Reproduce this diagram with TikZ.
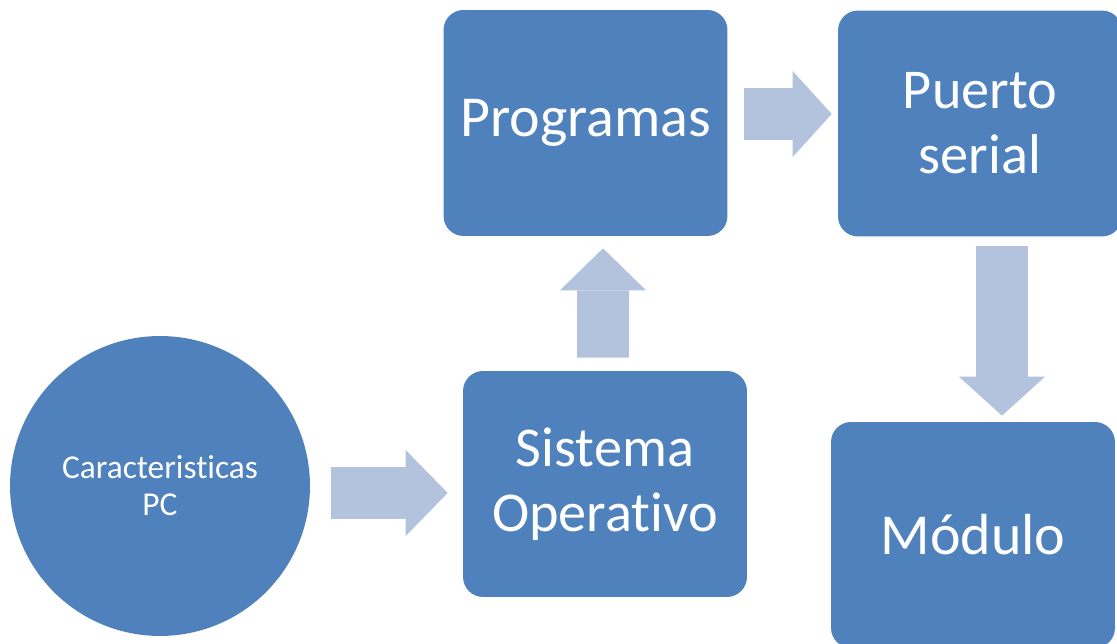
\documentclass[tikz,border=0pt]{standalone}
\usepackage{fontspec}
\setmainfont{Carlito}[RawFeature={-liga;-calt;-clig}]
\usetikzlibrary{positioning,arrows.meta,calc}
\definecolor{boxblue}{HTML}{4F81BD}
\definecolor{arrblue}{HTML}{B3C3DE}

\begin{document}
\begin{tikzpicture}[
		x=0.02cm, y=-0.02cm,
		box/.style = {fill=boxblue, rounded corners=0.4cm, minimum width=5.68cm, minimum height=4.52cm,
			text=white, align=center, inner sep=0pt, font=\fontsize{32}{37}\selectfont},
		round/.style = {fill=boxblue, circle, minimum size=6cm, inner sep=0pt,
			text=white, align=center, font=\fontsize{19}{21}\selectfont},
		blockarr/.style = {draw=arrblue, line width=1.04cm,
			-{Triangle[width=1.72cm, length=0.84cm, line width=0pt, fill=arrblue]}}
		]
		\useasboundingbox (0,0) rectangle (1117,644);
		% nodes
		\node[round] at (160,486) (pc) {Caracteristicas\\PC};
		\node[box] at (605,484) (so) {Sistema\\Operativo};
		\node[box, font=\fontsize{33}{37}\selectfont] at (585.5,123) (prog) {Programas};
		\node[box] at (980,123.5) (ps) {Puerto\\serial};
		\node[box, font=\fontsize{33}{37}\selectfont] at (973,535) (mod) {Módulo};
		% block arrows
		\draw[blockarr] ($(pc.east)+(21,7)$) -- ($(so.west)+(-15,9)$);
		\draw[blockarr] ($(so.north)+(-2,-13)$) -- ($(prog.south)+(17.5,12)$);
		\draw[blockarr, -{Triangle[width=1.72cm, length=0.78cm, line width=0pt, fill=arrblue]}] ($(prog.east)+(16,-9)$) -- ($(ps.west)+(-6,-9.5)$);
		\draw[blockarr, -{Triangle[width=1.72cm, length=0.78cm, line width=0pt, fill=arrblue]}] ($(ps.south)+(22,9.5)$) -- ($(mod.north)+(29,-6)$);
	\end{tikzpicture}
\end{document}
